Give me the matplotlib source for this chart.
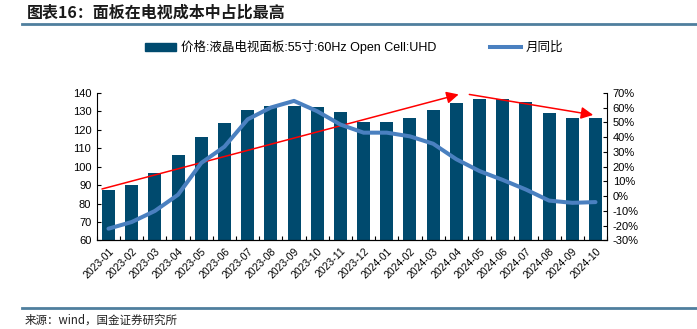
import matplotlib
matplotlib.use("Agg")
import matplotlib.pyplot as plt
from matplotlib.lines import Line2D
from matplotlib.ticker import FuncFormatter, MultipleLocator

plt.rcParams['font.family'] = ['Liberation Sans', 'Noto Sans CJK SC', 'DejaVu Sans']

months = ["2023-01", "2023-02", "2023-03", "2023-04", "2023-05", "2023-06",
          "2023-07", "2023-08", "2023-09", "2023-10", "2023-11", "2023-12",
          "2024-01", "2024-02", "2024-03", "2024-04", "2024-05", "2024-06",
          "2024-07", "2024-08", "2024-09", "2024-10"]
price = [87.5, 90, 96.5, 106.5, 116, 123.5, 130.5, 133, 133, 132.5, 129.5, 124,
         124, 126.5, 130.5, 134.5, 136.5, 136.5, 135, 129, 126.5, 126.5]
yoy = [-22, -17.5, -10, 1, 22.5, 33.5, 52, 60, 64.5, 57.5, 48.5, 43,
       43, 40.5, 35.5, 25, 17, 11, 4.5, -3, -4.5, -4]

bar_label = "价格:液晶电视面板:55寸:60Hz Open Cell:UHD"
line_label = "月同比"
title = "图表16：面板在电视成本中占比最高"
source = "来源：wind，国金证券研究所"

bar_color = "#004a6e"
line_color = "#4a80c0"
rule_color = "#4f7f9e"

fig = plt.figure(figsize=(6.97, 3.29), dpi=100)
ax = fig.add_axes([0.139, 0.269, 0.732, 0.449])
ax2 = ax.twinx()

x = list(range(len(months)))
ax.bar(x, price, width=0.56, color=bar_color, zorder=2)
ax.set_ylim(60, 140)
ax.set_xlim(-0.5, len(months) - 0.5)
ax.yaxis.set_major_locator(MultipleLocator(10))
ax.set_xticks(x)
ax.set_xticklabels(months, rotation=45, ha="right", rotation_mode="anchor", fontsize=7.5)
ax.set_xticks([i - 0.5 for i in range(len(months) + 1)], minor=True)
ax.tick_params(axis="x", which="major", length=0, pad=4)
ax.tick_params(axis="x", which="minor", direction="in", length=3, width=0.8)
ax.tick_params(axis="y", direction="in", length=3, width=0.8, labelsize=8, pad=4)

# red trend arrows (annotations on the price axis)
arrow_style = "-|>,head_length=0.6,head_width=0.3"
ax.annotate("", xy=(15.1, 139.1), xytext=(-0.28, 87.9),
            arrowprops=dict(arrowstyle=arrow_style, color="red", lw=1.1, mutation_scale=12,
                            shrinkA=0, shrinkB=0), annotation_clip=False)
ax.annotate("", xy=(20.9, 128), xytext=(15.56, 139.1),
            arrowprops=dict(arrowstyle=arrow_style, color="red", lw=1.1, mutation_scale=12,
                            shrinkA=0, shrinkB=0), annotation_clip=False)

ax2.plot(x, yoy, color=line_color, lw=2.9, solid_joinstyle="round", solid_capstyle="round", zorder=3)
ax2.set_ylim(-30, 70)
ax2.yaxis.set_major_locator(MultipleLocator(10))
ax2.yaxis.set_major_formatter(FuncFormatter(lambda v, p: f"{v:.0f}%"))
ax2.tick_params(axis="y", direction="in", length=3, width=0.8, labelsize=8, pad=4)

for a in (ax, ax2):
    a.spines["top"].set_visible(False)
    for s in ("left", "right", "bottom"):
        a.spines[s].set_linewidth(0.8)
ax.spines["right"].set_visible(False)
ax2.spines["left"].set_visible(False)

# legend
handles = [plt.Rectangle((0, 0), 1, 1, color=bar_color),
           Line2D([0], [0], color=line_color, lw=2.9)]
fig.legend(handles, [bar_label, line_label], loc="center left", bbox_to_anchor=(0.208, 0.857),
           ncol=2, frameon=False, fontsize=9, handlelength=2.5, handleheight=0.6,
           columnspacing=4.3, handletextpad=0.35, borderpad=0, borderaxespad=0)

# title and rules
fig.text(0.038, 0.962, title, fontsize=11.5, fontweight="bold", va="center", ha="left",
         color="#1a1a1a", family=["Noto Sans CJK SC", "DejaVu Sans"])
fig.add_artist(Line2D([0.032, 1.0], [0.926, 0.926], color=rule_color, lw=2))
fig.add_artist(Line2D([0.032, 1.0], [0.065, 0.065], color=rule_color, lw=2))
fig.text(0.036, 0.028, source, fontsize=8.3, va="center", ha="left", color="#222222",
         family=["Noto Sans CJK SC", "DejaVu Sans"])

fig.savefig("out.png", dpi=100)
